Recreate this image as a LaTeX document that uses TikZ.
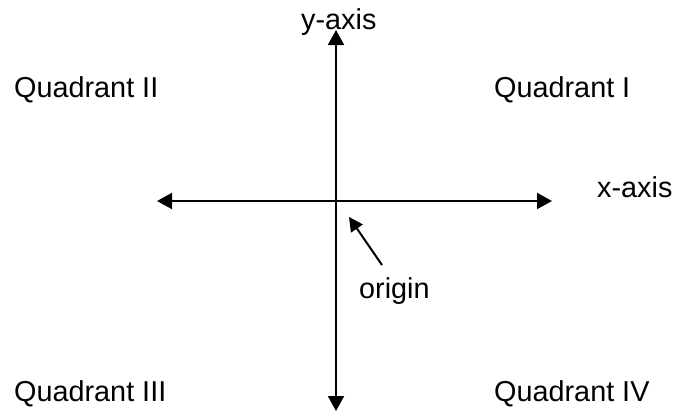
\documentclass[tikz,border=0pt]{standalone}
\usepackage{fontspec}
\setmainfont{Liberation Sans}
\usetikzlibrary{arrows.meta}
\begin{document}
\begin{tikzpicture}[x=1pt,y=-1pt,
  lbl/.style={anchor=base west,inner sep=0pt,font=\fontsize{28.8}{34}\selectfont},
  axisline/.style={line width=2pt,{Triangle[length=15pt,width=16pt]}-{Triangle[length=15pt,width=16pt]}},
  pointer/.style={line width=2pt,-{Triangle[length=14pt,width=14pt]}}]
\useasboundingbox (0,0) rectangle (675,410);
\coordinate (xl) at (157,201);
\coordinate (xr) at (552,201);
\coordinate (yt) at (336,30);
\coordinate (yb) at (336,411);
\coordinate (otail) at (382,265);
\coordinate (otip) at (349,217);
\draw[axisline] (xl) -- (xr);
\draw[axisline] (yb) -- (yt);
\draw[pointer] (otail) -- (otip);
\node[lbl] (ylab) at (301,29) {y-axis};
\node[lbl] (xlab) at (597,197) {x-axis};
\node[lbl] (orig) at (359,298) {origin};
\node[lbl] (q1) at (494,97) {Quadrant I};
\node[lbl] (q2) at (14,97) {Quadrant II};
\node[lbl] (q3) at (14,401) {Quadrant III};
\node[lbl] (q4) at (494,401) {Quadrant IV};
\end{tikzpicture}
\end{document}
